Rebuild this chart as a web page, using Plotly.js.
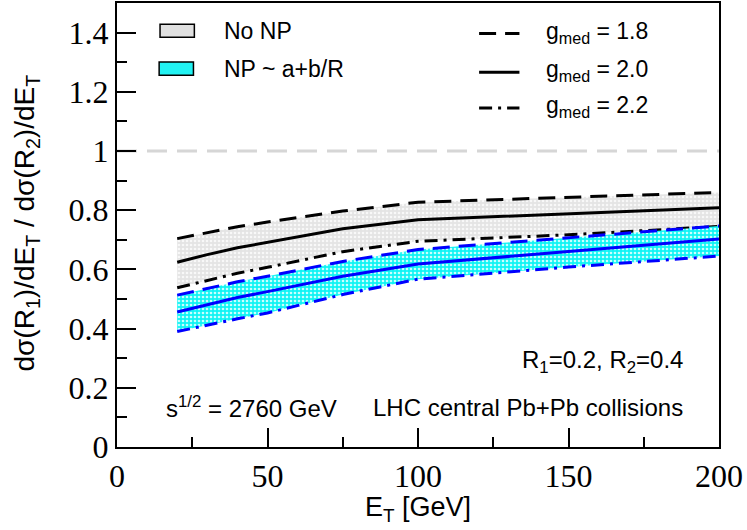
<!DOCTYPE html>
<html>
<head>
<meta charset="utf-8">
<script src="https://cdn.plot.ly/plotly-3.0.1.min.js"></script>
<style>
  html, body { margin: 0; padding: 0; background: #fff; }
  #chart { width: 747px; height: 530px; }
</style>
</head>
<body>
<div id="chart"></div>
<script>
// E_T grid (GeV)
var et = [20, 30, 40, 50, 75, 100, 150, 200];

// No NP band (black lines)
var noNP_g18 = [0.704, 0.725, 0.744, 0.760, 0.797, 0.827, 0.844, 0.860];
var noNP_g20 = [0.624, 0.650, 0.673, 0.692, 0.737, 0.768, 0.787, 0.808];
var noNP_g22 = [0.538, 0.563, 0.587, 0.607, 0.660, 0.695, 0.717, 0.745];

// NP ~ a+b/R band (blue lines)
var np_g18 = [0.513, 0.536, 0.558, 0.577, 0.627, 0.667, 0.706, 0.747];
var np_g20 = [0.456, 0.481, 0.505, 0.525, 0.577, 0.618, 0.661, 0.703];
var np_g22 = [0.390, 0.412, 0.433, 0.453, 0.515, 0.567, 0.608, 0.645];

var xTicks = [0, 50, 100, 150, 200];
var yTicks = [0, 0.2, 0.4, 0.6, 0.8, 1, 1.2, 1.4];
var gLabels = ["1.8", "2.0", "2.2"];

var DASH = "17px,9px";
var DASHDOT = "13px,6px,3px,6px";
var SANS = "Liberation Sans";
var SERIF = "Liberation Serif";

function line(y, color, dash, fill) {
  var t = {
    type: "scatter", mode: "lines", x: et, y: y, hoverinfo: "skip", showlegend: false,
    line: { color: color, width: 3, dash: dash }
  };
  if (fill) {
    t.fill = "tonexty";
    t.fillcolor = fill.bg;
    t.fillpattern = { shape: ".", bgcolor: fill.bg, fgcolor: fill.fg, size: 4, solidity: 0.35 };
  }
  return t;
}

var grayFill = { bg: "#e4e4e4", fg: "#f8f8f8" };
var cyanFill = { bg: "#10f4f4", fg: "#c8ffff" };

var data = [
  line(noNP_g18, "#000", DASH),
  line(noNP_g22, "#000", DASHDOT, grayFill),
  line(noNP_g20, "#000", "solid"),
  line(np_g18, "#0000ff", DASH),
  line(np_g22, "#0000ff", DASHDOT, cyanFill),
  line(np_g20, "#0000ff", "solid")
];

var shapes = [
  // reference line at ratio = 1
  { type: "line", xref: "paper", yref: "y", x0: 0, x1: 1, y0: 1, y1: 1,
    line: { color: "#d6d6d6", width: 3, dash: "20px,10px" }, layer: "below" },
  // fill legend swatches
  { type: "rect", xref: "x", yref: "y", x0: 14.3, x1: 25.7, y0: 1.384, y1: 1.428,
    fillcolor: "#e0e0e0", line: { color: "#000", width: 1.5 } },
  { type: "rect", xref: "x", yref: "y", x0: 14.0, x1: 25.4, y0: 1.256, y1: 1.301,
    fillcolor: "#22f2f2", line: { color: "#000", width: 1.5 } }
];

var dashes = [DASH, "solid", DASHDOT];
var legY = [1.397, 1.266, 1.145];
dashes.forEach(function(d, i) {
  shapes.push({ type: "line", xref: "x", yref: "y", x0: 120.3, x1: 133.7, y0: legY[i], y1: legY[i],
    line: { color: "#000", width: 3, dash: d } });
});

var ann = [
  { x: 35, y: 1.406, xref: "x", yref: "y", text: "No NP", xanchor: "left", yanchor: "middle" },
  { x: 35, y: 1.278, xref: "x", yref: "y", text: "NP ~ a+b/R", xanchor: "left", yanchor: "middle" },
  { x: 0.943, y: 0.29, xref: "paper", yref: "y", text: "R<sub>1</sub>=0.2, R<sub>2</sub>=0.4", xanchor: "right", yanchor: "middle", size: 24 },
  { x: 0.943, y: 0.135, xref: "paper", yref: "y", text: "LHC central Pb+Pb collisions", xanchor: "right", yanchor: "middle", size: 24 },
  { x: 15.5, y: 0.135, xref: "x", yref: "y", text: "s<sup>1/2</sup> = 2760 GeV", xanchor: "left", yanchor: "middle", size: 24 },
  { x: 0.5, y: -0.14, xref: "paper", yref: "paper", text: "E<sub>T</sub> [GeV]", xanchor: "center", yanchor: "middle", size: 27 },
  { x: -0.15, y: 0.505, xref: "paper", yref: "paper", text: "dσ(R<sub>1</sub>)/dE<sub>T</sub> / dσ(R<sub>2</sub>)/dE<sub>T</sub>",
    textangle: -90, xanchor: "center", yanchor: "middle", size: 28 }
];
legY.forEach(function(y, i) {
  ann.push({ x: 142, y: y + 0.005, xref: "x", yref: "y", text: "g<sub>med</sub> = " + gLabels[i],
    xanchor: "left", yanchor: "middle" });
});
ann.forEach(function(a) {
  a.showarrow = false;
  a.font = { family: SANS, size: a.size || 23, color: "#000" };
  delete a.size;
});

function axis(range, ticks, minorStep) {
  return {
    range: range, tickmode: "array", tickvals: ticks,
    showgrid: false, zeroline: false, showline: true, mirror: true,
    linecolor: "#000", linewidth: 2, ticks: "inside", ticklen: 19, tickwidth: 1.5, tickcolor: "#000",
    tickfont: { family: SERIF, size: 32, color: "#000" },
    minor: { ticks: "inside", ticklen: 10, tickwidth: 1.5, tickcolor: "#000", dtick: minorStep }
  };
}

var layout = {
  width: 747, height: 530,
  margin: { l: 117, r: 28, t: 3, b: 83 },
  font: { family: SERIF, size: 32, color: "#000" },
  paper_bgcolor: "#fff", plot_bgcolor: "#fff",
  showlegend: false,
  xaxis: axis([0, 200], xTicks, 25),
  yaxis: axis([0, 1.5], yTicks, 0.1),
  shapes: shapes,
  annotations: ann
};

Plotly.newPlot("chart", data, layout, { displayModeBar: false });
</script>
</body>
</html>
